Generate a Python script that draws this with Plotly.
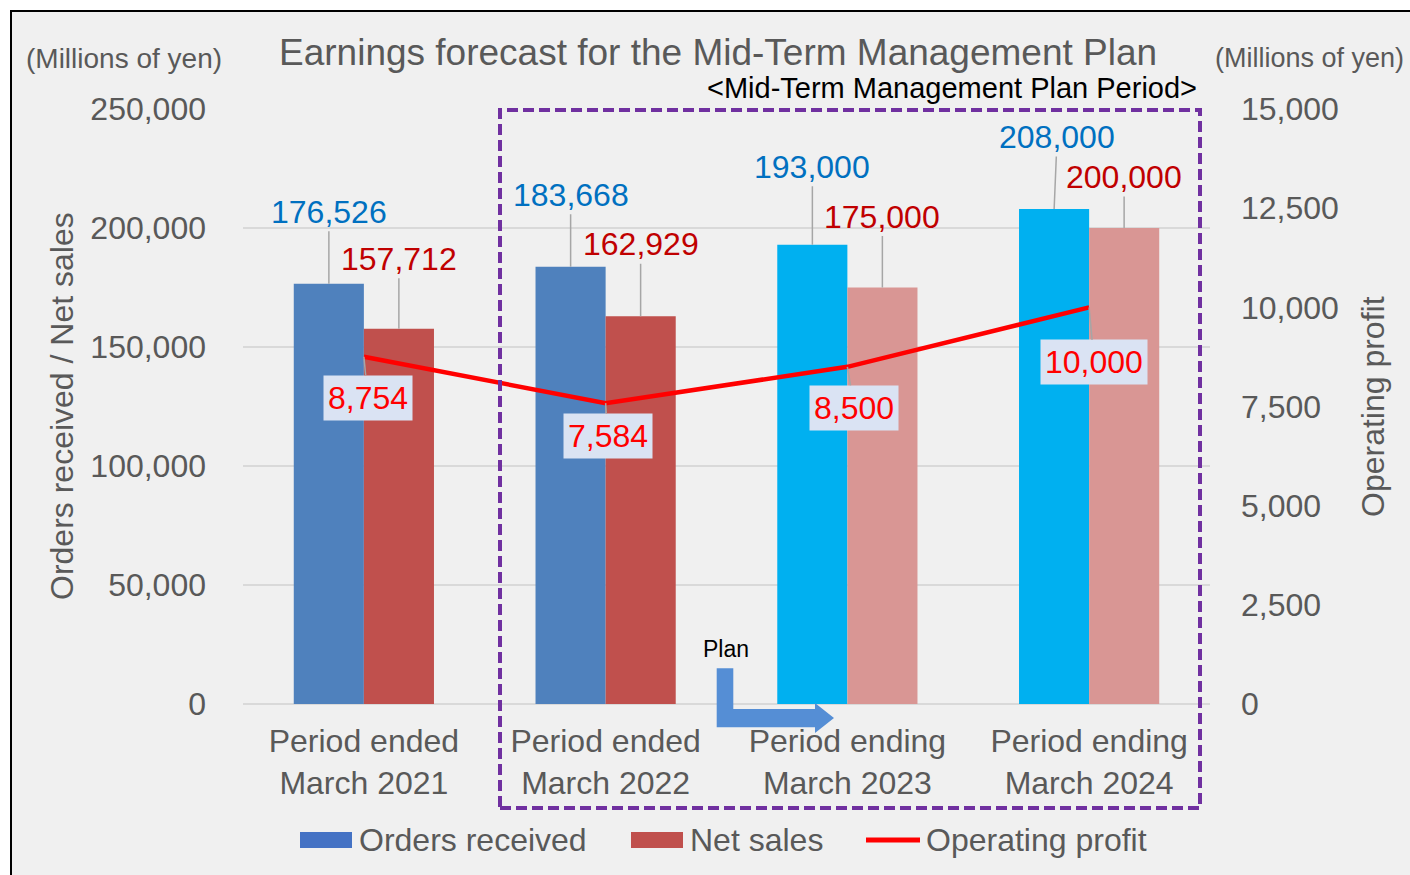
import plotly.graph_objects as go

# ---------------- data ----------------
categories = ["Period ended<br>March 2021", "Period ended<br>March 2022",
              "Period ending<br>March 2023", "Period ending<br>March 2024"]
orders_received = [176526, 183668, 193000, 208000]
net_sales = [157712, 162929, 175000, 200000]
operating_profit = [8754, 7584, 8500, 10000]

left_ticks = [0, 50000, 100000, 150000, 200000, 250000]
right_ticks = [0, 2500, 5000, 7500, 10000, 12500, 15000]

# ---------------- styles / layout positions ----------------
W, H = 1410, 875
ML, MR, MT, MB = 243, 200, 109, 171
PW, PH = W - ML - MR, H - MT - MB
FONT = "Liberation Sans, Arial, sans-serif"
GREY = "#595959"
BG = "#F0F0F0"
FS = 32

orders_colors = ["#4F81BD", "#4F81BD", "#00B0F0", "#00B0F0"]
sales_colors = ["#C0504D", "#C0504D", "#D99694", "#D99694"]

# label offsets (pixels)
orders_lbl_off = [(0, -72), (0, -72), (0, -78), (3, -72)]
sales_lbl_off = [(0, -70), (0, -72), (0, -71), (0, -51)]
op_lbl_off = [(4, 41), (2, 33), (7, 41), (5, 55)]


def px(x):
    return (x - ML) / PW


def py(y):
    return (MT + PH - y) / PH


fig = go.Figure()

fig.add_trace(go.Bar(name="Orders received", x=categories, y=orders_received,
                     marker=dict(color=orders_colors, line=dict(width=0)),
                     showlegend=False))
fig.add_trace(go.Bar(name="Net sales", x=categories, y=net_sales,
                     marker=dict(color=sales_colors, line=dict(width=0)),
                     showlegend=False))
fig.add_trace(go.Scatter(name="Operating profit", x=categories, y=operating_profit,
                         yaxis="y2", mode="lines",
                         line=dict(color="#FF0000", width=4.5),
                         showlegend=False))

annotations = []
shapes = []

# bar data labels with leader lines
for cat, v, (dx, dy) in zip(categories, orders_received, orders_lbl_off):
    annotations.append(dict(x=cat, y=v, xref="x", yref="y", xshift=-35,
                            text=f"{v:,}", showarrow=True, arrowhead=0,
                            arrowcolor="#A6A6A6", arrowwidth=1.5, ax=dx, ay=dy,
                            font=dict(family=FONT, size=FS, color="#0070C0")))
for cat, v, (dx, dy) in zip(categories, net_sales, sales_lbl_off):
    annotations.append(dict(x=cat, y=v, xref="x", yref="y", xshift=35,
                            text=f"{v:,}", showarrow=True, arrowhead=0,
                            arrowcolor="#A6A6A6", arrowwidth=1.5, ax=dx, ay=dy,
                            font=dict(family=FONT, size=FS, color="#C00000")))
for cat, v, (dx, dy) in zip(categories, operating_profit, op_lbl_off):
    annotations.append(dict(x=cat, y=v, xref="x", yref="y2",
                            text=f"{v:,}", showarrow=True, arrowhead=0,
                            arrowcolor="#A6A6A6", arrowwidth=1.5, ax=dx, ay=dy,
                            bgcolor="#DAE3F3", borderpad=4,
                            font=dict(family=FONT, size=FS, color="#FF0000")))

# titles / units
annotations += [
    dict(x=px(718), y=py(53), xref="paper", yref="paper", showarrow=False,
         text="Earnings forecast for the Mid-Term Management Plan",
         font=dict(family=FONT, size=37, color=GREY), xanchor="center", yanchor="middle"),
    dict(x=px(1199), y=py(88), xref="paper", yref="paper", showarrow=False,
         text="&lt;Mid-Term Management Plan Period&gt;",
         font=dict(family=FONT, size=29, color="#000000"), xanchor="right", yanchor="middle"),
    dict(x=px(124), y=py(58), xref="paper", yref="paper", showarrow=False,
         text="(Millions of yen)",
         font=dict(family=FONT, size=28, color=GREY), xanchor="center", yanchor="middle"),
    dict(x=px(1406), y=py(58), xref="paper", yref="paper", showarrow=False,
         text="(Millions of yen)",
         font=dict(family=FONT, size=27, color=GREY), xanchor="right", yanchor="middle"),
    dict(x=px(62), y=py(406), xref="paper", yref="paper", showarrow=False,
         text="Orders received / Net sales", textangle=-90,
         font=dict(family=FONT, size=FS, color=GREY), xanchor="center", yanchor="middle"),
    dict(x=px(1373), y=py(407), xref="paper", yref="paper", showarrow=False,
         text="Operating profit", textangle=-90,
         font=dict(family=FONT, size=FS, color=GREY), xanchor="center", yanchor="middle"),
    dict(x=px(726), y=py(649), xref="paper", yref="paper", showarrow=False,
         text="Plan", font=dict(family=FONT, size=23, color="#000000"),
         xanchor="center", yanchor="middle"),
]

# custom legend
legend_items = [
    ("Orders received", "#4472C4", "rect", 300, 352, 357),
    ("Net sales", "#C0504D", "rect", 631, 683, 688),
    ("Operating profit", "#FF0000", "line", 866, 920, 924),
]
for name, col, kind, x0, x1, tx in legend_items:
    if kind == "rect":
        shapes.append(dict(type="rect", xref="paper", yref="paper",
                           x0=px(x0), x1=px(x1), y0=py(848), y1=py(832),
                           fillcolor=col, line=dict(width=0)))
    else:
        shapes.append(dict(type="line", xref="paper", yref="paper",
                           x0=px(x0), x1=px(x1), y0=py(840), y1=py(840),
                           line=dict(color=col, width=5)))
    annotations.append(dict(x=px(tx), y=py(840), xref="paper", yref="paper",
                            showarrow=False, text=name, xanchor="left", yanchor="middle",
                            font=dict(family=FONT, size=FS, color=GREY)))

# purple dashed period box
shapes.append(dict(type="rect", xref="paper", yref="paper",
                   x0=px(500), x1=px(1200), y0=py(808), y1=py(110),
                   line=dict(color="#7030A0", width=4, dash="11px,5px"),
                   fillcolor="rgba(0,0,0,0)", layer="above"))

# plan arrow (L-shaped)
pts = [(716.7, 668.3), (733.3, 668.3), (733.3, 709), (815, 709), (815, 703),
       (834, 718), (815, 733), (815, 727.3), (716.7, 727.3)]
path = "M " + " L ".join(f"{px(a):.5f},{py(b):.5f}" for a, b in pts) + " Z"
shapes.append(dict(type="path", xref="paper", yref="paper", path=path,
                   fillcolor="#558ED5", line=dict(width=0), layer="above"))

# outer frame: white outside, black border lines
shapes += [
    dict(type="rect", xref="paper", yref="paper", x0=px(0), x1=px(W), y0=py(0), y1=py(10),
         fillcolor="#FFFFFF", line=dict(width=0), layer="above"),
    dict(type="rect", xref="paper", yref="paper", x0=px(0), x1=px(10), y0=py(0), y1=py(H),
         fillcolor="#FFFFFF", line=dict(width=0), layer="above"),
    dict(type="line", xref="paper", yref="paper", x0=px(10), x1=px(W), y0=py(11), y1=py(11),
         line=dict(color="#000000", width=2), layer="above"),
    dict(type="line", xref="paper", yref="paper", x0=px(11), x1=px(11), y0=py(10), y1=py(H),
         line=dict(color="#000000", width=2), layer="above"),
]

fig.update_layout(
    width=W, height=H,
    margin=dict(l=ML, r=MR, t=MT, b=MB, autoexpand=False),
    paper_bgcolor=BG, plot_bgcolor=BG,
    barmode="group", bargap=0.42, bargroupgap=0,
    font=dict(family=FONT, size=FS, color=GREY),
    xaxis=dict(type="category", showgrid=False, showline=False, zeroline=False,
               ticks="", tickfont=dict(family=FONT, size=FS, color=GREY),
               ticklabelstandoff=15),
    yaxis=dict(range=[0, 250000], tickvals=left_ticks, tickformat=",d",
               showgrid=True, gridcolor="#D9D9D9", gridwidth=1.5,
               zeroline=True, zerolinecolor="#D9D9D9", zerolinewidth=1.5,
               showline=False, ticks="", ticklabelstandoff=36,
               tickfont=dict(family=FONT, size=FS, color=GREY)),
    yaxis2=dict(range=[0, 15000], tickvals=right_ticks, tickformat=",d",
                overlaying="y", side="right", showgrid=False, zeroline=False,
                showline=False, ticks="", ticklabelstandoff=30,
                tickfont=dict(family=FONT, size=FS, color=GREY)),
    annotations=annotations,
    shapes=shapes,
    showlegend=False,
)

fig.write_html("out.html", config={"displayModeBar": False},
               post_script="document.body.style.margin='0px';document.body.style.overflow='hidden';")
